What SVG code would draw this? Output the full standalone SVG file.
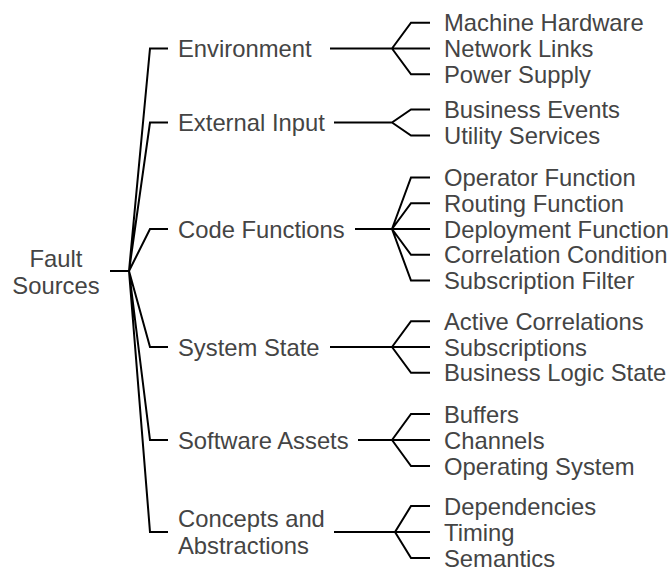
<svg xmlns="http://www.w3.org/2000/svg" width="670" height="572" viewBox="0 0 670 572">
<style>
text{font-family:"Liberation Sans",Arial,sans-serif;font-size:23.8px;fill:#444}
.c path{fill:none;stroke:#000;stroke-width:2}
</style>
<rect width="670" height="572" fill="#fff"/>
<g class="c" id="connectors">
<path d="M110 271H129"/>
<path d="M129 271L150 48.5H168M129 271L150 122.5H168M129 271L150 229H168M129 271L150 347H168M129 271L150 440H168M129 271L150 532H168"/>
<path d="M330 48.5H392M392 48.5L411 22.7H430M392 48.5H430M392 48.5L411 74.3H430"/>
<path d="M334 122.5H392M392 122.5L411 109.5H430M392 122.5L411 135.5H430"/>
<path d="M355 229H392M392 229L411 177.4H430M392 229L411 203.2H430M392 229H430M392 229L411 254.8H430M392 229L411 280.6H430"/>
<path d="M330 347H392M392 347L411 321.2H430M392 347H430M392 347L411 372.8H430"/>
<path d="M358 440H392M392 440L411 414H430M392 440H430M392 440L411 466H430"/>
<path d="M334 532H395M395 532L411 506H430M395 532H430M395 532L411 558H430"/>
</g>
<g id="root"><text x="56" y="266.5" text-anchor="middle">Fault</text><text x="56" y="293.5" text-anchor="middle">Sources</text></g>
<g id="environment"><text x="178" y="57">Environment</text></g>
<g id="external-input"><text x="178" y="131">External Input</text></g>
<g id="code-functions"><text x="178" y="237.5">Code Functions</text></g>
<g id="system-state"><text x="178" y="355.5">System State</text></g>
<g id="software-assets"><text x="178" y="448.5">Software Assets</text></g>
<g id="concepts"><text x="178" y="526.5">Concepts and</text><text x="178" y="553.5">Abstractions</text></g>
<g id="machine-hardware"><text x="444" y="31.3">Machine Hardware</text></g>
<g id="network-links"><text x="444" y="57.1">Network Links</text></g>
<g id="power-supply"><text x="444" y="82.9">Power Supply</text></g>
<g id="business-events"><text x="444" y="118.1">Business Events</text></g>
<g id="utility-services"><text x="444" y="144.1">Utility Services</text></g>
<g id="operator-function"><text x="444" y="186">Operator Function</text></g>
<g id="routing-function"><text x="444" y="211.8">Routing Function</text></g>
<g id="deployment-function"><text x="444" y="237.6">Deployment Function</text></g>
<g id="correlation-condition"><text x="444" y="263.4">Correlation Condition</text></g>
<g id="subscription-filter"><text x="444" y="289.2">Subscription Filter</text></g>
<g id="active-correlations"><text x="444" y="329.8">Active Correlations</text></g>
<g id="subscriptions"><text x="444" y="355.6">Subscriptions</text></g>
<g id="business-logic-state"><text x="444" y="381.4">Business Logic State</text></g>
<g id="buffers"><text x="444" y="422.6">Buffers</text></g>
<g id="channels"><text x="444" y="448.6">Channels</text></g>
<g id="operating-system"><text x="444" y="474.6">Operating System</text></g>
<g id="dependencies"><text x="444" y="514.6">Dependencies</text></g>
<g id="timing"><text x="444" y="540.6">Timing</text></g>
<g id="semantics"><text x="444" y="566.6">Semantics</text></g>
</svg>
